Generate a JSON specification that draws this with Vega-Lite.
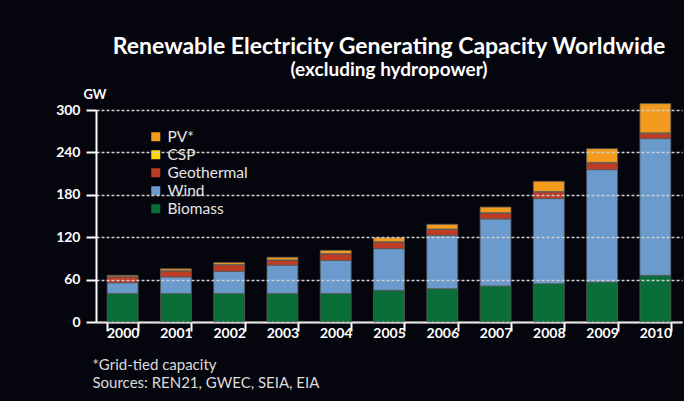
{
  "$schema": "https://vega.github.io/schema/vega-lite/v6.json",
  "width": 586,
  "height": 212,
  "autosize": {"type": "none"},
  "padding": {"left": 96, "top": 110, "right": 2, "bottom": 79},
  "background": "#05050d",
  "title": {
    "text": "Renewable Electricity Generating Capacity Worldwide",
    "subtitle": "(excluding hydropower)",
    "anchor": "middle",
    "frame": "group",
    "font": "Lato",
    "fontSize": 23,
    "fontWeight": "bold",
    "color": "#ffffff",
    "subtitleFont": "Lato",
    "subtitleFontSize": 19,
    "subtitleFontWeight": "bold",
    "subtitleColor": "#ffffff",
    "subtitlePadding": 2,
    "offset": 8
  },
  "data": {
    "values": [
      {"year": "2000", "source": "Biomass", "gw": 40.5},
      {"year": "2000", "source": "Wind", "gw": 15.0},
      {"year": "2000", "source": "Geothermal", "gw": 8.4},
      {"year": "2000", "source": "CSP", "gw": 0.35},
      {"year": "2000", "source": "PV*", "gw": 1.8},
      {"year": "2001", "source": "Biomass", "gw": 40.5},
      {"year": "2001", "source": "Wind", "gw": 23.3},
      {"year": "2001", "source": "Geothermal", "gw": 8.5},
      {"year": "2001", "source": "CSP", "gw": 0.35},
      {"year": "2001", "source": "PV*", "gw": 2.6},
      {"year": "2002", "source": "Biomass", "gw": 40.5},
      {"year": "2002", "source": "Wind", "gw": 31.2},
      {"year": "2002", "source": "Geothermal", "gw": 9.3},
      {"year": "2002", "source": "CSP", "gw": 0.35},
      {"year": "2002", "source": "PV*", "gw": 2.7},
      {"year": "2003", "source": "Biomass", "gw": 40.5},
      {"year": "2003", "source": "Wind", "gw": 40.0},
      {"year": "2003", "source": "Geothermal", "gw": 7.0},
      {"year": "2003", "source": "CSP", "gw": 0.35},
      {"year": "2003", "source": "PV*", "gw": 3.8},
      {"year": "2004", "source": "Biomass", "gw": 40.5},
      {"year": "2004", "source": "Wind", "gw": 46.5},
      {"year": "2004", "source": "Geothermal", "gw": 9.5},
      {"year": "2004", "source": "CSP", "gw": 0.35},
      {"year": "2004", "source": "PV*", "gw": 4.5},
      {"year": "2005", "source": "Biomass", "gw": 44.8},
      {"year": "2005", "source": "Wind", "gw": 59.0},
      {"year": "2005", "source": "Geothermal", "gw": 9.4},
      {"year": "2005", "source": "CSP", "gw": 0.35},
      {"year": "2005", "source": "PV*", "gw": 5.8},
      {"year": "2006", "source": "Biomass", "gw": 47.2},
      {"year": "2006", "source": "Wind", "gw": 75.5},
      {"year": "2006", "source": "Geothermal", "gw": 8.5},
      {"year": "2006", "source": "CSP", "gw": 0.4},
      {"year": "2006", "source": "PV*", "gw": 6.6},
      {"year": "2007", "source": "Biomass", "gw": 51.0},
      {"year": "2007", "source": "Wind", "gw": 94.8},
      {"year": "2007", "source": "Geothermal", "gw": 8.4},
      {"year": "2007", "source": "CSP", "gw": 0.45},
      {"year": "2007", "source": "PV*", "gw": 8.0},
      {"year": "2008", "source": "Biomass", "gw": 54.3},
      {"year": "2008", "source": "Wind", "gw": 120.3},
      {"year": "2008", "source": "Geothermal", "gw": 9.5},
      {"year": "2008", "source": "CSP", "gw": 0.5},
      {"year": "2008", "source": "PV*", "gw": 14.5},
      {"year": "2009", "source": "Biomass", "gw": 56.6},
      {"year": "2009", "source": "Wind", "gw": 159.0},
      {"year": "2009", "source": "Geothermal", "gw": 9.5},
      {"year": "2009", "source": "CSP", "gw": 0.7},
      {"year": "2009", "source": "PV*", "gw": 19.5},
      {"year": "2010", "source": "Biomass", "gw": 66.0},
      {"year": "2010", "source": "Wind", "gw": 193.5},
      {"year": "2010", "source": "Geothermal", "gw": 7.1},
      {"year": "2010", "source": "CSP", "gw": 1.1},
      {"year": "2010", "source": "PV*", "gw": 41.3}
    ]
  },
  "transform": [
    {"calculate": "indexof(['Biomass', 'Wind', 'Geothermal', 'CSP', 'PV*'], datum.source)", "as": "stackIndex"}
  ],
  "mark": {"type": "bar", "stroke": "#5a5a5a", "strokeWidth": 0.8},
  "encoding": {
    "x": {
      "field": "year",
      "type": "ordinal",
      "scale": {"paddingInner": 0.42, "paddingOuter": 0.21},
      "axis": {
        "labelAngle": 0,
        "tickBand": "extent",
        "tickSize": 9,
        "labelPadding": -5,
        "title": ["*Grid-tied capacity", "Sources: REN21, GWEC, SEIA, EIA"],
        "titleAnchor": "start",
        "titleAlign": "left",
        "titleBaseline": "alphabetic",
        "titleX": -4,
        "titleY": 47,
        "titleFont": "Lato",
        "titleFontSize": 15,
        "titleFontWeight": "normal",
        "titleColor": "#dcdcdc",
        "titleLineHeight": 18.5
      }
    },
    "y": {
      "field": "gw",
      "type": "quantitative",
      "stack": "zero",
      "scale": {"domain": [0, 300], "nice": false},
      "axis": {
        "values": [0, 60, 120, 180, 240, 300],
        "grid": true,
        "gridColor": "#cfcfcf",
        "gridDash": [3, 2],
        "gridWidth": 1.5,
        "tickSize": 10,
        "labelPadding": 6,
        "zindex": 1,
        "title": "GW",
        "titleAngle": 0,
        "titleX": -13,
        "titleY": -16,
        "titleAlign": "left",
        "titleBaseline": "middle",
        "titleFont": "Lato",
        "titleFontSize": 13,
        "titleFontWeight": "bold",
        "titleColor": "#ffffff"
      }
    },
    "color": {
      "field": "source",
      "type": "nominal",
      "scale": {
        "domain": ["PV*", "CSP", "Geothermal", "Wind", "Biomass"],
        "range": ["#f39b1f", "#ffd800", "#be3b26", "#6b9bcc", "#0a6e39"]
      },
      "legend": {
        "orient": "none",
        "legendX": 52,
        "legendY": 19,
        "title": null,
        "padding": 0,
        "symbolType": "square",
        "symbolSize": 81,
        "symbolStrokeWidth": 0,
        "symbolOpacity": 1,
        "labelFont": "Lato",
        "labelFontSize": 15.5,
        "labelColor": "#e6e6e6",
        "labelOffset": 4,
        "rowPadding": 1
      }
    },
    "order": {"field": "stackIndex", "type": "quantitative"}
  },
  "config": {
    "view": {"stroke": null},
    "axis": {
      "domainColor": "#ffffff",
      "domainWidth": 2,
      "tickColor": "#ffffff",
      "tickWidth": 2,
      "labelColor": "#ffffff",
      "labelFont": "Lato",
      "labelFontSize": 14,
      "labelFontWeight": "bold"
    }
  }
}
